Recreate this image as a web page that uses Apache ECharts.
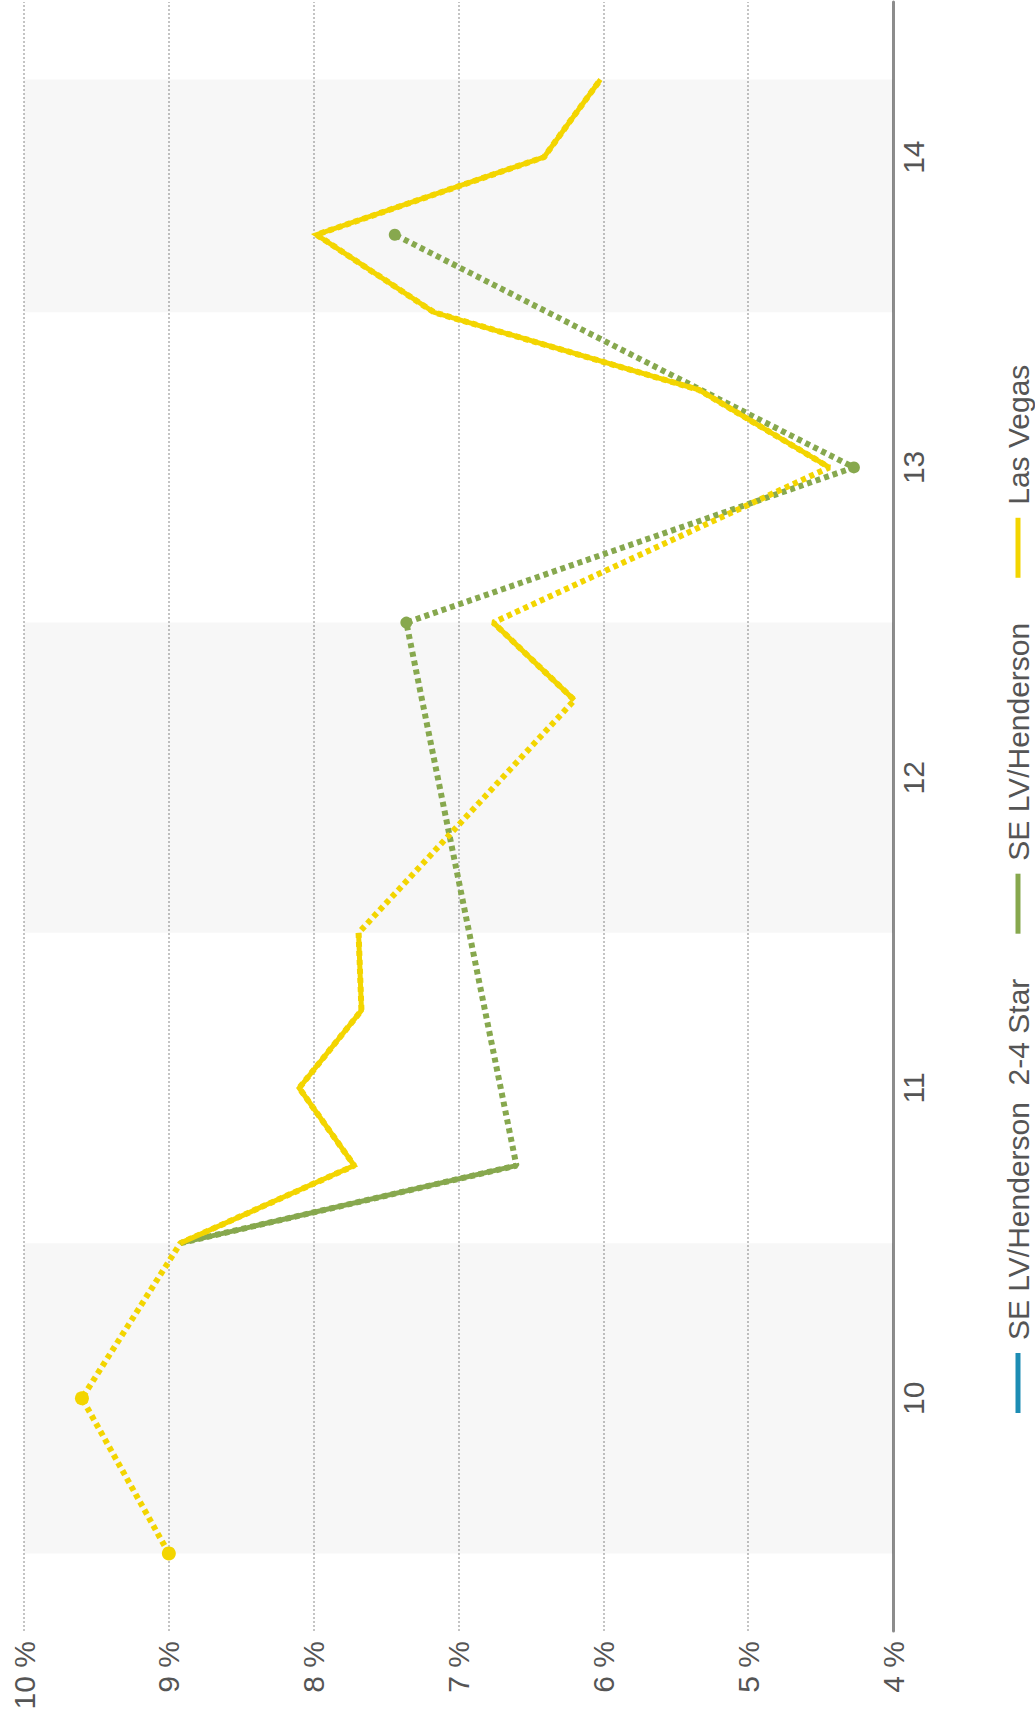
<!DOCTYPE html>
<html>
<head>
<meta charset="utf-8">
<title>Occupancy change by quarter</title>
<script src="https://cdn.jsdelivr.net/npm/echarts@6/dist/echarts.min.js"></script>
<style>
  html, body { margin: 0; padding: 0; background: #fff; overflow: hidden; width: 1035px; height: 1711px; }
  /* the chart is laid out landscape and turned a quarter turn counter-clockwise */
  #chart {
    position: absolute; left: 0; top: 0;
    width: 1711px; height: 1035px;
    transform-origin: 0 0;
    transform: translateY(1711px) rotate(-90deg);
  }
</style>
</head>
<body>
<div id="chart"></div>
<script>
// quarters on a year scale (two-digit years)
const quarters = [9.5, 9.75, 10, 10.25, 10.5, 10.75, 11, 11.25, 11.5, 11.75,
                  12, 12.25, 12.5, 12.75, 13, 13.25, 13.5, 13.75, 14, 14.25];

// values in percent; null = no reading that quarter
const lasVegas      = [9.0, null, 9.6, null, 8.92, 7.72, 8.1, 7.67, 7.69, null,
                       null, 6.2, 6.76, null, 4.44, 5.34, 7.17, 7.98, 6.41, 6.02];
const seHenderson   = [null, null, null, null, 8.92, 6.6, null, null, null, null,
                       null, null, 7.36, null, 4.27, null, null, 7.44, null, null];
const seHenderson24 = [null, null, null, null, null, null, null, null, null, null,
                       null, null, null, null, null, null, null, null, null, null];

const yearTicks    = [10, 11, 12, 13, 14];
const percentTicks = [4, 5, 6, 7, 8, 9, 10];
const shadedSpans  = [[9.5, 10.5], [11.5, 12.5], [13.5, 14.25]];

const seriesNames = ['SE LV/Henderson  2-4 Star', 'SE LV/Henderson', 'Las Vegas'];
const seriesValues = [seHenderson24, seHenderson, lasVegas];
const seriesColors = ['#1d8db4', '#87a84e', '#f3d500'];
const markerSizes  = [12, 12, 14];

const FONT = '"Liberation Sans", Arial, Helvetica, sans-serif';

// consecutive quarters: solid segments, broken at missing quarters
function solidData(vals) {
  return quarters.map((q, i) => [q, vals[i] == null ? '-' : vals[i]]);
}
// every reading joined across the gaps; lone readings get a dot
function gapData(vals, size) {
  const out = [];
  vals.forEach((v, i) => {
    if (v == null) return;
    const lone = (i === 0 || vals[i - 1] == null) && (i === vals.length - 1 || vals[i + 1] == null);
    out.push({ value: [quarters[i], v], symbol: lone ? 'circle' : 'none', symbolSize: size });
  });
  return out;
}

const series = [];
seriesNames.forEach((name, k) => {
  series.push({
    name: name,
    type: 'line',
    data: solidData(seriesValues[k]),
    connectNulls: false,
    showSymbol: false,
    z: 4,
    color: seriesColors[k],
    lineStyle: { width: 5, color: seriesColors[k], cap: 'butt', join: 'miter' },
    emphasis: { disabled: true },
    markArea: k === 0 ? {
      silent: true,
      itemStyle: { color: 'rgba(0,0,0,0.032)' },
      data: shadedSpans.map(s => [{ xAxis: s[0] }, { xAxis: s[1] }])
    } : undefined
  });
});
seriesNames.forEach((name, k) => {
  series.push({
    name: name,
    type: 'line',
    data: gapData(seriesValues[k], markerSizes[k]),
    showSymbol: true,
    z: 3,
    color: seriesColors[k],
    itemStyle: { color: seriesColors[k] },
    lineStyle: { width: 6, color: seriesColors[k], type: [5, 4], cap: 'butt' },
    emphasis: { disabled: true }
  });
});

const chart = echarts.init(document.getElementById('chart'), null, { renderer: 'svg' });
chart.setOption({
  animation: false,
  backgroundColor: '#ffffff',
  textStyle: { fontFamily: FONT },
  grid: { left: 80, right: 2, top: 24, bottom: 142, containLabel: false, outerBoundsMode: 'none' },
  legend: {
    data: seriesNames,
    left: 298, top: 1001, padding: 0,
    icon: 'rect', itemWidth: 60, itemHeight: 5, itemGap: 45,
    selectedMode: false,
    textStyle: { fontFamily: FONT, fontSize: 30, color: '#555', lineHeight: 34, padding: [0, 0, 0, 8] }
  },
  xAxis: {
    type: 'value',
    min: 9.25, max: 14.5, interval: 0.25,
    axisLine: { show: true, lineStyle: { color: '#8c8c8c', width: 3 } },
    axisTick: { show: false },
    splitLine: { show: false },
    axisLabel: {
      fontFamily: FONT, fontSize: 30, color: '#555', margin: 5,
      formatter: v => yearTicks.indexOf(v) >= 0 ? String(v) : ''
    }
  },
  yAxis: {
    type: 'value',
    min: percentTicks[0], max: percentTicks[percentTicks.length - 1], interval: 1,
    axisLine: { show: false },
    axisTick: { show: false },
    splitLine: { show: true, lineStyle: { color: '#c4c4c4', width: 2, type: 'dotted' } },
    axisLabel: {
      fontFamily: FONT, fontSize: 30, color: '#555', margin: 10,
      formatter: v => percentTicks.indexOf(v) >= 0 ? v + ' %' : ''
    }
  },
  series: series
});
</script>
</body>
</html>
